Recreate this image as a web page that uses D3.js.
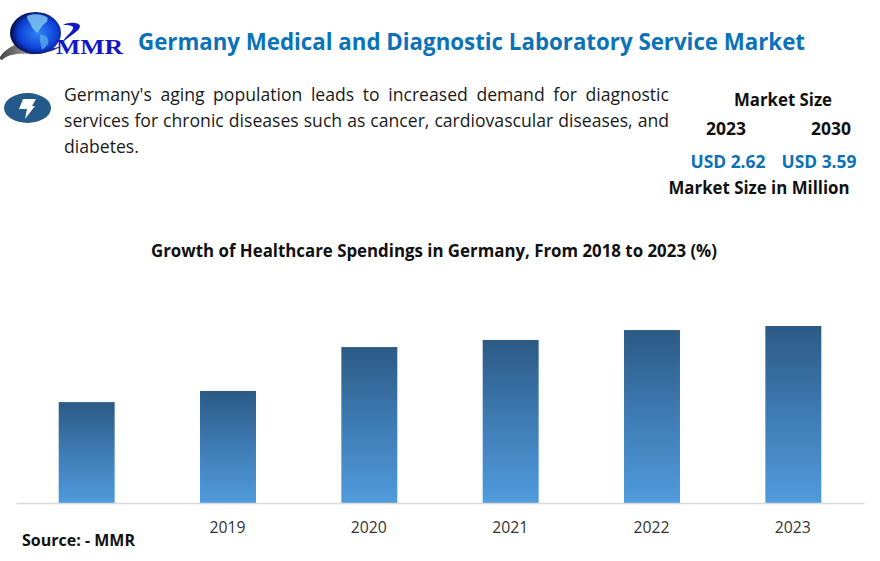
<!DOCTYPE html>
<html>
<head>
<meta charset="utf-8">
<script src="https://d3js.org/d3.v7.min.js"></script>
<style>
  html, body { margin: 0; padding: 0; background: #fff; }
  text { font-family: "Open Sans", "Noto Sans", sans-serif; }
</style>
</head>
<body>
<div id="plot-container"></div>
<script>
// Chart data (no axis in the original, so values are estimates)
const categories = ["2018", "2019", "2020", "2021", "2022", "2023"];
const tickLabels = ["", "2019", "2020", "2021", "2022", "2023"];
const growthValues = [5.7, 6.33, 8.81, 9.21, 9.77, 10];

const titleText = "Germany Medical and Diagnostic Laboratory Service Market";
const chartTitle = "Growth of Healthcare Spendings in Germany, From 2018 to 2023 (%)";
const bodyLines = [
    "Germany's aging population leads to increased demand for diagnostic",
    "services for chronic diseases such as cancer, cardiovascular diseases, and",
    "diabetes."
];

const width = 880;
const height = 561;
const margin = { top: 326, right: 16, bottom: 58, left: 16 };

const svg = d3.select("#plot-container")
    .append("svg")
    .attr("width", width)
    .attr("height", height)
    .style("display", "block");

const defs = svg.append("defs");

// Bar gradient
const barGrad = defs.append("linearGradient")
    .attr("id", "barGrad")
    .attr("x1", 0).attr("y1", 0).attr("x2", 0).attr("y2", 1);
barGrad.append("stop").attr("offset", "0%").attr("stop-color", "#2c5a85");
barGrad.append("stop").attr("offset", "50%").attr("stop-color", "#3f7cb5");
barGrad.append("stop").attr("offset", "100%").attr("stop-color", "#4f9bdc");

// Globe gradient
const globeGrad = defs.append("radialGradient")
    .attr("id", "globeGrad")
    .attr("cx", "55%").attr("cy", "50%").attr("r", "55%");
globeGrad.append("stop").attr("offset", "0%").attr("stop-color", "#2f86f2");
globeGrad.append("stop").attr("offset", "70%").attr("stop-color", "#0d3fd8");
globeGrad.append("stop").attr("offset", "100%").attr("stop-color", "#040a40");

const swooshGrad = defs.append("linearGradient")
    .attr("id", "swooshGrad")
    .attr("x1", 0).attr("y1", 0).attr("x2", 1).attr("y2", 0);
swooshGrad.append("stop").attr("offset", "0%").attr("stop-color", "#444");
swooshGrad.append("stop").attr("offset", "45%").attr("stop-color", "#999");
swooshGrad.append("stop").attr("offset", "80%").attr("stop-color", "#2030b0");
swooshGrad.append("stop").attr("offset", "100%").attr("stop-color", "#1018c8");

// Text squeezed to the width it has in the picture (the original font is narrower)
function fitText(str, x, y, w, size, weight, color, anchor) {
    return svg.append("text")
        .attr("x", x)
        .attr("y", y)
        .attr("font-size", size)
        .attr("font-weight", weight)
        .attr("fill", color)
        .attr("text-anchor", anchor || "start")
        .attr("textLength", w)
        .attr("lengthAdjust", "spacingAndGlyphs")
        .text(str);
}

// Logo
svg.append("path")
    .attr("d", "M0,57 C4,50 14,44 24,42 C34,48 44,51 62,46 C52,52 40,55 28,54 C16,53 7,55 2,60 C0,60 0,58 0,57 Z")
    .attr("fill", "url(#swooshGrad)");
svg.append("ellipse")
    .attr("cx", 35.5).attr("cy", 33).attr("rx", 25.5).attr("ry", 21)
    .attr("fill", "url(#globeGrad)");
svg.append("path")
    .attr("d", "M27,16 C33,13 42,14 47,17 C49,20 46,23 44,24 C42,27 39,29 38,33 C34,31 31,26 30,23 C28,21 27,18 27,16 Z")
    .attr("fill", "#7cc4ee").attr("opacity", 0.85);
svg.append("path")
    .attr("d", "M40,35 C45,34 50,38 48,44 C46,47 43,49 42,50 C41,45 39,40 40,35 Z")
    .attr("fill", "#5aa8ee").attr("opacity", 0.8);
svg.append("path")
    .attr("d", "M63,25 C68,22 79,22 80,26 C80,31 70,35 62,43 C65,36 74,31 73,27 C71,25 66,25 63,25 Z")
    .attr("fill", "#1018c8");
svg.append("text")
    .attr("x", 56).attr("y", 54)
    .attr("font-size", 21)
    .attr("font-weight", 700)
    .attr("fill", "#1018c8")
    .attr("textLength", 67)
    .attr("lengthAdjust", "spacingAndGlyphs")
    .style("font-family", "'Liberation Serif', serif")
    .text("MMR");

// Header
fitText(titleText, 138, 50, 667, 23.5, 700, "#0b72b9");

// Icon
svg.append("ellipse")
    .attr("cx", 27.5).attr("cy", 108).attr("rx", 23.5).attr("ry", 15)
    .attr("fill", "#235a8a");
svg.append("path")
    .attr("d", "M23,99 L36,99 L32,106 L35,106 L25,119 L27,109 L19,109 Z")
    .attr("fill", "#fff");

// Body text, justified with word spacing like the original
bodyLines.forEach((line, i) => {
    const t = svg.append("text")
        .attr("x", 64)
        .attr("y", 100.5 + i * 26)
        .attr("font-size", 17.6)
        .attr("fill", "#1a1a1a")
        .text(line);
    if (i < 2) {
        const gaps = line.split(" ").length - 1;
        const extra = (605 - t.node().getComputedTextLength()) / gaps;
        t.style("word-spacing", `${extra}px`);
    }
});

// Market size block
fitText("Market Size", 783, 105.5, 98, 17, 700, "#111", "middle");
fitText("2023", 726, 135, 40, 17, 700, "#111", "middle");
fitText("2030", 831, 135, 40, 17, 700, "#111", "middle");
fitText("USD 2.62", 728, 167.5, 75, 17, 700, "#0b72b9", "middle");
fitText("USD 3.59", 819, 167.5, 75, 17, 700, "#0b72b9", "middle");
fitText("Market Size in Million", 759, 194, 181, 17, 700, "#111", "middle");

// Chart title
fitText(chartTitle, 434, 257, 566, 17, 700, "#111", "middle");

// Scales
const xScale = d3.scaleBand()
    .domain(categories)
    .range([margin.left, width - margin.right])
    .paddingInner(0.604)
    .paddingOuter(0.302);

const yScale = d3.scaleLinear()
    .domain([0, d3.max(growthValues)])
    .range([height - margin.bottom, margin.top]);

// Bars
svg.selectAll(".bar")
    .data(growthValues)
    .enter()
    .append("rect")
    .attr("class", "bar")
    .attr("x", (d, i) => xScale(categories[i]))
    .attr("y", d => yScale(d))
    .attr("width", xScale.bandwidth())
    .attr("height", d => yScale(0) - yScale(d))
    .attr("fill", "url(#barGrad)");

// X axis
const xAxis = svg.append("g")
    .attr("transform", `translate(0,${height - margin.bottom})`)
    .call(d3.axisBottom(xScale)
        .tickSize(0)
        .tickPadding(19)
        .tickFormat((d, i) => tickLabels[i]));
xAxis.select(".domain").attr("stroke", "#d9d9d9").attr("stroke-width", 1.5);
xAxis.selectAll("text")
    .attr("font-size", 16)
    .attr("fill", "#333")
    .attr("textLength", 36)
    .attr("lengthAdjust", "spacingAndGlyphs")
    .attr("dx", -0.5)
    .style("font-family", "'Open Sans', sans-serif");

// Source note
fitText("Source: - MMR", 22, 546, 113, 15.5, 700, "#111");
</script>
</body>
</html>
